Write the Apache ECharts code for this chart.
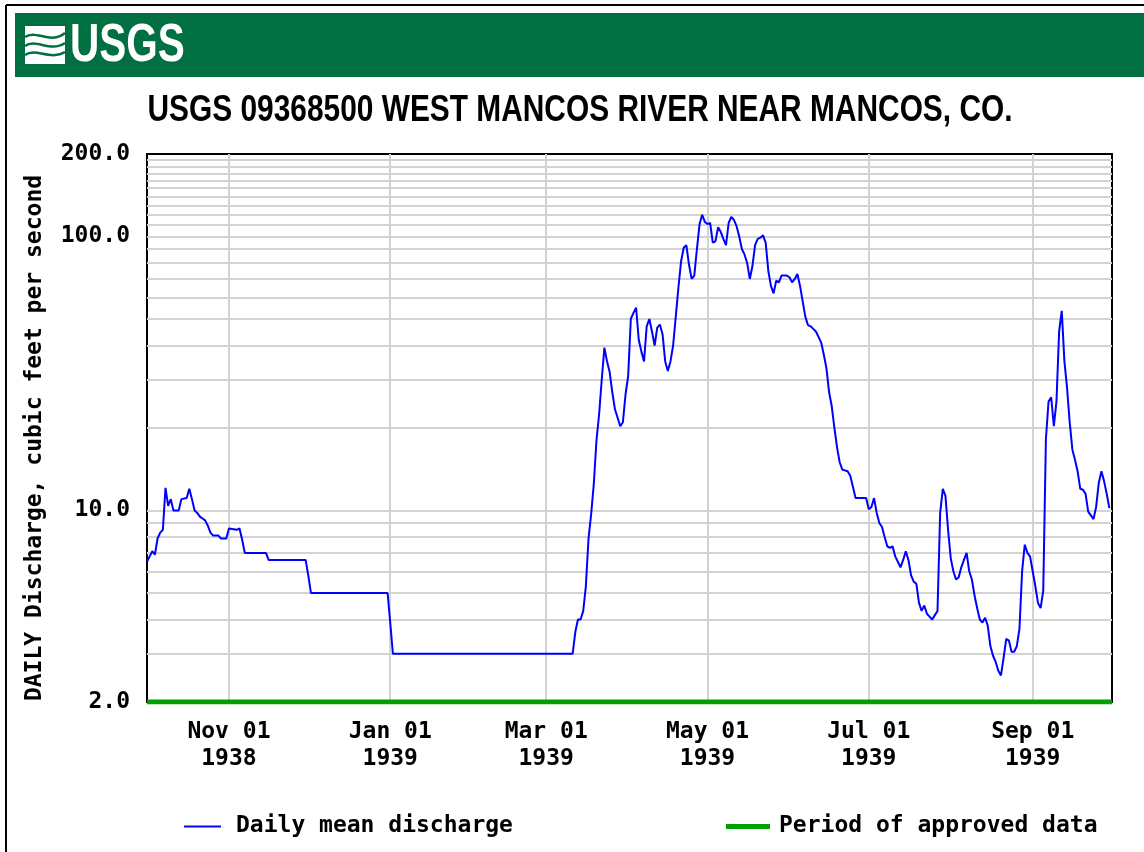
<!DOCTYPE html>
<html>
<head>
<meta charset="utf-8">
<title>USGS 09368500 West Mancos River</title>
<script src="https://cdn.jsdelivr.net/npm/echarts@6/dist/echarts.min.js"></script>
<style>
  body { margin: 0; background: #fff; }
  #chart { width: 1144px; height: 852px; }
</style>
</head>
<body>
<div id="chart"></div>
<script>
// water year 1938-10-01 .. 1939-10-01, one category per day
var startDate = Date.UTC(1938, 9, 1);
var categories = [];
for (var i = 0; i <= 365; i++) {
  categories.push(new Date(startDate + i * 86400000).toISOString().slice(0, 10));
}

// x ticks / labels (day index from Oct 01 1938)
var tickDays = [31, 92, 151, 212, 273, 335];
var tickLabels = ["Nov 01\n1938", "Jan 01\n1939", "Mar 01\n1939", "May 01\n1939", "Jul 01\n1939", "Sep 01\n1939"];

// horizontal grid lines (log scale)
var gridValues = [3, 4, 5, 6, 7, 8, 9, 10, 20, 30, 40, 50, 60, 70, 80, 90, 100,
  110, 120, 130, 140, 150, 160, 170, 180, 190];

// daily mean discharge (day index, cfs)
var days = [0, 1, 2, 3, 4, 5, 6, 7, 8, 9, 10, 12, 13, 15, 16, 17, 18, 19, 20, 21, 22, 23, 24, 25, 27, 28, 30,
  31, 34, 35, 36, 37, 45, 46, 60, 61, 62, 91, 92, 93, 161,
  162, 163, 164, 165, 166, 167, 168, 169, 170, 171, 172, 173, 174, 175, 176, 177, 178, 179, 180,
  181, 182, 183, 184, 185, 186, 187, 188, 189, 190, 191, 192, 193, 194, 195, 196, 197, 198, 199, 200,
  201, 202, 203, 204, 205, 206, 207, 208, 209, 210, 211, 212, 213, 214, 215, 216, 217, 218, 219, 220,
  221, 222, 223, 224, 225, 226, 227, 228, 229, 230, 231, 232, 233, 234, 235, 236, 237, 238, 239, 240,
  242, 243, 244, 245, 246, 247, 248, 249, 250, 251, 252, 253, 254, 255, 256, 257, 258, 259, 260,
  261, 262, 263, 265, 266, 267, 268, 272, 273, 274, 275, 276, 277, 278, 279, 280,
  281, 282, 283, 284, 285, 286, 287, 288, 289, 290, 291, 292, 293, 294, 295, 296, 297, 298, 299, 300,
  301, 302, 303, 304, 305, 306, 307, 308, 309, 310, 311, 312, 313, 314, 315, 316, 317, 318, 319, 320,
  321, 322, 323, 324, 325, 326, 327, 328, 329, 330, 331, 332, 333, 334, 335, 336, 337, 338, 339, 340,
  341, 342, 343, 344, 345, 346, 347, 348, 349, 350, 351, 352, 353, 354, 355, 356, 357, 358, 359, 360,
  361, 362, 363, 364];
var flow = [6.5, 6.8, 7.1, 6.9, 7.9, 8.3, 8.5, 12.1, 10.4, 11.0, 10.0, 10.0, 11.0, 11.1, 12.0, 11.0, 10.0, 9.8, 9.5, 9.35, 9.2, 8.8, 8.3, 8.1, 8.1, 7.9, 7.9,
  8.6, 8.5, 8.6, 7.8, 7.0, 7.0, 6.6, 6.6, 5.8, 5.0, 5.0, 3.9, 3.0, 3.0,
  3.6, 4.0, 4.0, 4.3, 5.3, 7.9, 9.7, 12.5, 18, 22.4, 30, 39.3, 35, 32, 27, 23.4, 21.8, 20.3, 21,
  26.5, 31, 50, 52.6, 55, 42, 38, 35, 47, 50, 45, 40, 46.5, 47.7, 44, 35, 32.3, 35, 40, 51,
  65, 81, 91, 93, 79, 70, 72, 90, 111, 120, 113, 111, 112, 95, 96, 108, 104, 98, 93, 112,
  118, 115, 109, 100, 90, 86, 80, 70, 78, 93, 98, 99, 101, 95, 75, 66, 62, 69, 68, 72,
  72, 71, 68, 70, 73, 66, 58, 51, 47.5, 47, 46, 45, 43, 41, 37, 33, 27, 24, 20,
  17, 15, 14.1, 13.9, 13.4, 12.2, 11.1, 11.1, 10.1, 10.3, 11.1, 9.8, 9.0, 8.7, 8.0, 7.4,
  7.3, 7.4, 6.8, 6.5, 6.2, 6.6, 7.1, 6.6, 5.8, 5.5, 5.4, 4.6, 4.3, 4.5, 4.2, 4.1, 4.0, 4.15, 4.3, 9.8,
  12, 11.3, 8.5, 6.7, 6.0, 5.6, 5.7, 6.2, 6.6, 7.0, 6.0, 5.6, 4.9, 4.4, 4.0, 3.9, 4.06, 3.8, 3.2, 2.95,
  2.8, 2.6, 2.5, 2.9, 3.4, 3.35, 3.05, 3.05, 3.2, 3.7, 6.0, 7.5, 7.0, 6.8, 6.0, 5.3, 4.6, 4.4, 5.1, 18.2,
  25, 25.9, 20.3, 25, 45, 53.5, 35, 28, 21, 16.7, 15.3, 13.9, 12, 11.9, 11.5, 9.9, 9.6, 9.3, 10.3, 12.6,
  13.9, 12.8, 11.5, 10.2];

// period of approved data (whole year)
var approvedDays = [0, 365];
var approvedLevel = 2;

var monoFont = "'DejaVu Sans Mono', 'Liberation Mono', monospace";
var sansFont = "'Liberation Sans', Arial, sans-serif";
var green = "#006F41";

var chart = echarts.init(document.getElementById("chart"));

// little wave strokes of the logo
function wave(y0, y1, ya, yb) {
  return {
    type: "bezierCurve",
    shape: { x1: 25, y1: y0, cpx1: 36, cpy1: ya, cpx2: 50, cpy2: yb, x2: 65, y2: y1 },
    style: { fill: null, stroke: green, lineWidth: 2.5 }
  };
}

var option = {
  animation: false,
  backgroundColor: "#fff",
  grid: {
    left: 147, top: 154, width: 965, height: 548,
    show: true, borderColor: "#000", borderWidth: 2, backgroundColor: "#fff"
  },
  xAxis: {
    type: "category",
    data: categories,
    boundaryGap: false,
    axisLine: { show: false },
    axisTick: { show: false },
    axisLabel: {
      interval: function (idx) { return tickDays.indexOf(idx) >= 0; },
      formatter: function (value, idx) { return tickLabels[tickDays.indexOf(idx)]; },
      margin: 17,
      lineHeight: 26.6,
      color: "#000",
      fontFamily: monoFont,
      fontSize: 23,
      fontWeight: "bold"
    },
    splitLine: {
      show: true,
      interval: function (idx) { return tickDays.indexOf(idx) >= 0; },
      lineStyle: { color: "#d3d3d3", width: 2 }
    }
  },
  yAxis: {
    type: "log",
    logBase: 10,
    min: 2,
    max: 200,
    axisLine: { show: false },
    axisTick: { show: false },
    splitLine: { show: false },
    axisLabel: {
      margin: 17,
      color: "#000",
      fontFamily: monoFont,
      fontSize: 23,
      fontWeight: "bold",
      formatter: function (v) { return Number(v).toFixed(1); }
    }
  },
  legend: [
    {
      data: ["Daily mean discharge"],
      left: 179, top: 810,
      icon: "rect", itemWidth: 37, itemHeight: 2,
      selectedMode: false,
      textStyle: { color: "#000", fontFamily: monoFont, fontSize: 23, fontWeight: "bold", padding: [0, 0, 0, 10] }
    },
    {
      data: ["Period of approved data"],
      left: 721, top: 810,
      icon: "rect", itemWidth: 44, itemHeight: 5,
      selectedMode: false,
      textStyle: { color: "#000", fontFamily: monoFont, fontSize: 23, fontWeight: "bold", padding: [0, 0, 0, 4] }
    }
  ],
  series: [
    {
      name: "gridlines",
      type: "line",
      data: [],
      z: 1,
      silent: true,
      markLine: {
        z: 1,
        silent: true,
        symbol: "none",
        label: { show: false },
        lineStyle: { color: "#d3d3d3", width: 2, type: "solid" },
        emphasis: { disabled: true },
        data: gridValues.map(function (v) { return { yAxis: v }; })
      }
    },
    {
      name: "Period of approved data",
      type: "line",
      z: 3,
      symbol: "none",
      itemStyle: { color: "#00A000" },
      lineStyle: { color: "#00A000", width: 5 },
      data: approvedDays.map(function (d) { return [d, approvedLevel]; })
    },
    {
      name: "Daily mean discharge",
      type: "line",
      z: 4,
      symbol: "none",
      itemStyle: { color: "#0000FF" },
      lineStyle: { color: "#0000FF", width: 2 },
      data: days.map(function (d, k) { return [d, flow[k]]; })
    }
  ],
  graphic: [
    { type: "line", shape: { x1: 6, y1: 5, x2: 6, y2: 852 }, style: { stroke: "#000", lineWidth: 2 } },
    { type: "line", shape: { x1: 6, y1: 5, x2: 1144, y2: 5 }, style: { stroke: "#000", lineWidth: 2 } },
    { type: "rect", shape: { x: 15, y: 13, width: 1129, height: 64 }, style: { fill: green } },
    { type: "rect", shape: { x: 25, y: 26, width: 40, height: 38 }, style: { fill: "#fff" } },
    wave(37, 33, 29, 45),
    wave(46, 43, 38, 53),
    wave(55, 52, 47, 61),
    {
      type: "text", x: 70, y: 46, scaleX: 0.75,
      style: { text: "USGS", fill: "#fff", font: "bold 54px " + sansFont, textAlign: "left", textVerticalAlign: "middle" }
    },
    {
      type: "text", x: 580, y: 111, scaleX: 0.83,
      style: { text: "USGS 09368500 WEST MANCOS RIVER NEAR MANCOS, CO.", fill: "#000", font: "bold 36px " + sansFont, textAlign: "center", textVerticalAlign: "middle" }
    },
    {
      type: "text", x: 35, y: 438, rotation: Math.PI / 2,
      style: { text: "DAILY Discharge, cubic feet per second", fill: "#000", font: "bold 23px " + monoFont, textAlign: "center", textVerticalAlign: "middle" }
    }
  ]
};

chart.setOption(option);
window.addEventListener("resize", function () { chart.resize(); });
</script>
</body>
</html>
